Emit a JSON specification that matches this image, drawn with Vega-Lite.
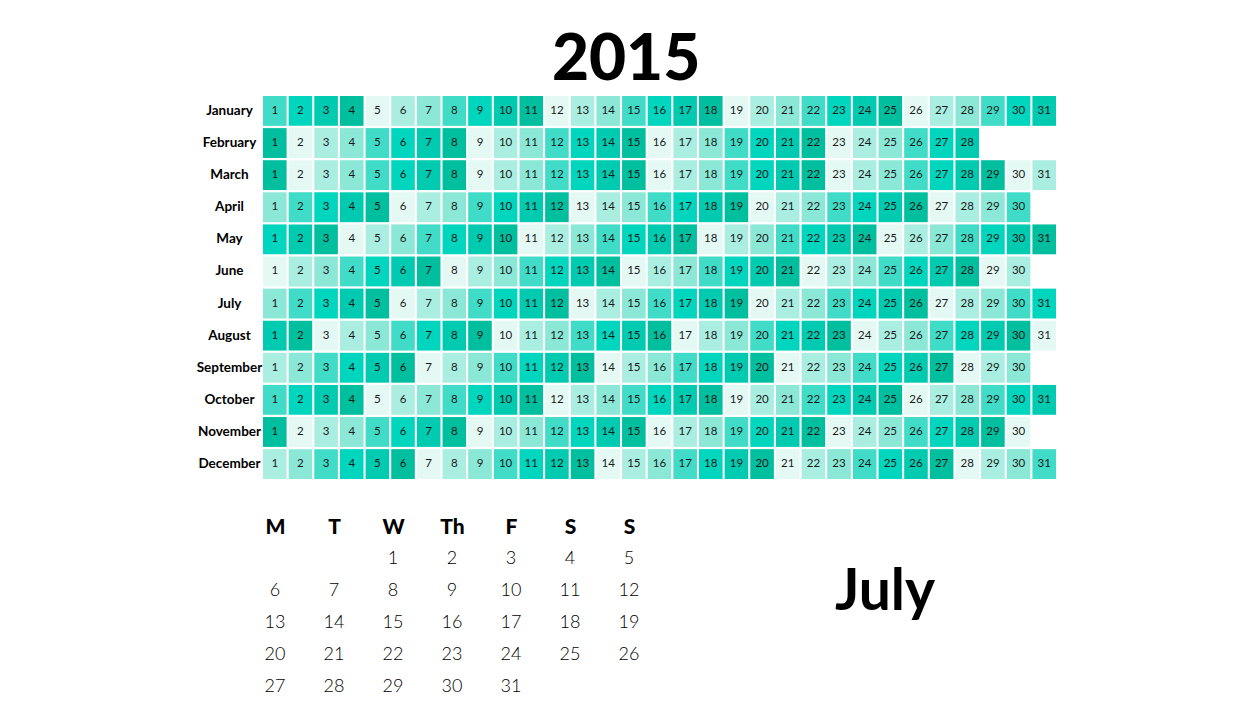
{
"$schema": "https://vega.github.io/schema/vega-lite/v6.json",
"background": "white",
"padding": {"left": 196, "top": 29, "right": 0, "bottom": 0},
"config": {"view": {"stroke": null}},
"spacing": 37,
"vconcat": [
{
"width": 793, "height": 383,
"title": {"text": "2015", "fontSize": 64, "font": "Lato", "fontWeight": 900, "color": "black", "anchor": "middle", "frame": "bounds", "offset": 3},
"data": {"values": [
{"t":"2015-01-01"},{"t":"2015-01-02"},{"t":"2015-01-03"},{"t":"2015-01-04"},{"t":"2015-01-05"},{"t":"2015-01-06"},{"t":"2015-01-07"},{"t":"2015-01-08"},{"t":"2015-01-09"},{"t":"2015-01-10"},{"t":"2015-01-11"},{"t":"2015-01-12"},{"t":"2015-01-13"},{"t":"2015-01-14"},{"t":"2015-01-15"},{"t":"2015-01-16"},{"t":"2015-01-17"},{"t":"2015-01-18"},{"t":"2015-01-19"},{"t":"2015-01-20"},{"t":"2015-01-21"},{"t":"2015-01-22"},{"t":"2015-01-23"},{"t":"2015-01-24"},{"t":"2015-01-25"},{"t":"2015-01-26"},{"t":"2015-01-27"},{"t":"2015-01-28"},{"t":"2015-01-29"},{"t":"2015-01-30"},{"t":"2015-01-31"},
{"t":"2015-02-01"},{"t":"2015-02-02"},{"t":"2015-02-03"},{"t":"2015-02-04"},{"t":"2015-02-05"},{"t":"2015-02-06"},{"t":"2015-02-07"},{"t":"2015-02-08"},{"t":"2015-02-09"},{"t":"2015-02-10"},{"t":"2015-02-11"},{"t":"2015-02-12"},{"t":"2015-02-13"},{"t":"2015-02-14"},{"t":"2015-02-15"},{"t":"2015-02-16"},{"t":"2015-02-17"},{"t":"2015-02-18"},{"t":"2015-02-19"},{"t":"2015-02-20"},{"t":"2015-02-21"},{"t":"2015-02-22"},{"t":"2015-02-23"},{"t":"2015-02-24"},{"t":"2015-02-25"},{"t":"2015-02-26"},{"t":"2015-02-27"},{"t":"2015-02-28"},
{"t":"2015-03-01"},{"t":"2015-03-02"},{"t":"2015-03-03"},{"t":"2015-03-04"},{"t":"2015-03-05"},{"t":"2015-03-06"},{"t":"2015-03-07"},{"t":"2015-03-08"},{"t":"2015-03-09"},{"t":"2015-03-10"},{"t":"2015-03-11"},{"t":"2015-03-12"},{"t":"2015-03-13"},{"t":"2015-03-14"},{"t":"2015-03-15"},{"t":"2015-03-16"},{"t":"2015-03-17"},{"t":"2015-03-18"},{"t":"2015-03-19"},{"t":"2015-03-20"},{"t":"2015-03-21"},{"t":"2015-03-22"},{"t":"2015-03-23"},{"t":"2015-03-24"},{"t":"2015-03-25"},{"t":"2015-03-26"},{"t":"2015-03-27"},{"t":"2015-03-28"},{"t":"2015-03-29"},{"t":"2015-03-30"},{"t":"2015-03-31"},
{"t":"2015-04-01"},{"t":"2015-04-02"},{"t":"2015-04-03"},{"t":"2015-04-04"},{"t":"2015-04-05"},{"t":"2015-04-06"},{"t":"2015-04-07"},{"t":"2015-04-08"},{"t":"2015-04-09"},{"t":"2015-04-10"},{"t":"2015-04-11"},{"t":"2015-04-12"},{"t":"2015-04-13"},{"t":"2015-04-14"},{"t":"2015-04-15"},{"t":"2015-04-16"},{"t":"2015-04-17"},{"t":"2015-04-18"},{"t":"2015-04-19"},{"t":"2015-04-20"},{"t":"2015-04-21"},{"t":"2015-04-22"},{"t":"2015-04-23"},{"t":"2015-04-24"},{"t":"2015-04-25"},{"t":"2015-04-26"},{"t":"2015-04-27"},{"t":"2015-04-28"},{"t":"2015-04-29"},{"t":"2015-04-30"},
{"t":"2015-05-01"},{"t":"2015-05-02"},{"t":"2015-05-03"},{"t":"2015-05-04"},{"t":"2015-05-05"},{"t":"2015-05-06"},{"t":"2015-05-07"},{"t":"2015-05-08"},{"t":"2015-05-09"},{"t":"2015-05-10"},{"t":"2015-05-11"},{"t":"2015-05-12"},{"t":"2015-05-13"},{"t":"2015-05-14"},{"t":"2015-05-15"},{"t":"2015-05-16"},{"t":"2015-05-17"},{"t":"2015-05-18"},{"t":"2015-05-19"},{"t":"2015-05-20"},{"t":"2015-05-21"},{"t":"2015-05-22"},{"t":"2015-05-23"},{"t":"2015-05-24"},{"t":"2015-05-25"},{"t":"2015-05-26"},{"t":"2015-05-27"},{"t":"2015-05-28"},{"t":"2015-05-29"},{"t":"2015-05-30"},{"t":"2015-05-31"},
{"t":"2015-06-01"},{"t":"2015-06-02"},{"t":"2015-06-03"},{"t":"2015-06-04"},{"t":"2015-06-05"},{"t":"2015-06-06"},{"t":"2015-06-07"},{"t":"2015-06-08"},{"t":"2015-06-09"},{"t":"2015-06-10"},{"t":"2015-06-11"},{"t":"2015-06-12"},{"t":"2015-06-13"},{"t":"2015-06-14"},{"t":"2015-06-15"},{"t":"2015-06-16"},{"t":"2015-06-17"},{"t":"2015-06-18"},{"t":"2015-06-19"},{"t":"2015-06-20"},{"t":"2015-06-21"},{"t":"2015-06-22"},{"t":"2015-06-23"},{"t":"2015-06-24"},{"t":"2015-06-25"},{"t":"2015-06-26"},{"t":"2015-06-27"},{"t":"2015-06-28"},{"t":"2015-06-29"},{"t":"2015-06-30"},
{"t":"2015-07-01"},{"t":"2015-07-02"},{"t":"2015-07-03"},{"t":"2015-07-04"},{"t":"2015-07-05"},{"t":"2015-07-06"},{"t":"2015-07-07"},{"t":"2015-07-08"},{"t":"2015-07-09"},{"t":"2015-07-10"},{"t":"2015-07-11"},{"t":"2015-07-12"},{"t":"2015-07-13"},{"t":"2015-07-14"},{"t":"2015-07-15"},{"t":"2015-07-16"},{"t":"2015-07-17"},{"t":"2015-07-18"},{"t":"2015-07-19"},{"t":"2015-07-20"},{"t":"2015-07-21"},{"t":"2015-07-22"},{"t":"2015-07-23"},{"t":"2015-07-24"},{"t":"2015-07-25"},{"t":"2015-07-26"},{"t":"2015-07-27"},{"t":"2015-07-28"},{"t":"2015-07-29"},{"t":"2015-07-30"},{"t":"2015-07-31"},
{"t":"2015-08-01"},{"t":"2015-08-02"},{"t":"2015-08-03"},{"t":"2015-08-04"},{"t":"2015-08-05"},{"t":"2015-08-06"},{"t":"2015-08-07"},{"t":"2015-08-08"},{"t":"2015-08-09"},{"t":"2015-08-10"},{"t":"2015-08-11"},{"t":"2015-08-12"},{"t":"2015-08-13"},{"t":"2015-08-14"},{"t":"2015-08-15"},{"t":"2015-08-16"},{"t":"2015-08-17"},{"t":"2015-08-18"},{"t":"2015-08-19"},{"t":"2015-08-20"},{"t":"2015-08-21"},{"t":"2015-08-22"},{"t":"2015-08-23"},{"t":"2015-08-24"},{"t":"2015-08-25"},{"t":"2015-08-26"},{"t":"2015-08-27"},{"t":"2015-08-28"},{"t":"2015-08-29"},{"t":"2015-08-30"},{"t":"2015-08-31"},
{"t":"2015-09-01"},{"t":"2015-09-02"},{"t":"2015-09-03"},{"t":"2015-09-04"},{"t":"2015-09-05"},{"t":"2015-09-06"},{"t":"2015-09-07"},{"t":"2015-09-08"},{"t":"2015-09-09"},{"t":"2015-09-10"},{"t":"2015-09-11"},{"t":"2015-09-12"},{"t":"2015-09-13"},{"t":"2015-09-14"},{"t":"2015-09-15"},{"t":"2015-09-16"},{"t":"2015-09-17"},{"t":"2015-09-18"},{"t":"2015-09-19"},{"t":"2015-09-20"},{"t":"2015-09-21"},{"t":"2015-09-22"},{"t":"2015-09-23"},{"t":"2015-09-24"},{"t":"2015-09-25"},{"t":"2015-09-26"},{"t":"2015-09-27"},{"t":"2015-09-28"},{"t":"2015-09-29"},{"t":"2015-09-30"},
{"t":"2015-10-01"},{"t":"2015-10-02"},{"t":"2015-10-03"},{"t":"2015-10-04"},{"t":"2015-10-05"},{"t":"2015-10-06"},{"t":"2015-10-07"},{"t":"2015-10-08"},{"t":"2015-10-09"},{"t":"2015-10-10"},{"t":"2015-10-11"},{"t":"2015-10-12"},{"t":"2015-10-13"},{"t":"2015-10-14"},{"t":"2015-10-15"},{"t":"2015-10-16"},{"t":"2015-10-17"},{"t":"2015-10-18"},{"t":"2015-10-19"},{"t":"2015-10-20"},{"t":"2015-10-21"},{"t":"2015-10-22"},{"t":"2015-10-23"},{"t":"2015-10-24"},{"t":"2015-10-25"},{"t":"2015-10-26"},{"t":"2015-10-27"},{"t":"2015-10-28"},{"t":"2015-10-29"},{"t":"2015-10-30"},{"t":"2015-10-31"},
{"t":"2015-11-01"},{"t":"2015-11-02"},{"t":"2015-11-03"},{"t":"2015-11-04"},{"t":"2015-11-05"},{"t":"2015-11-06"},{"t":"2015-11-07"},{"t":"2015-11-08"},{"t":"2015-11-09"},{"t":"2015-11-10"},{"t":"2015-11-11"},{"t":"2015-11-12"},{"t":"2015-11-13"},{"t":"2015-11-14"},{"t":"2015-11-15"},{"t":"2015-11-16"},{"t":"2015-11-17"},{"t":"2015-11-18"},{"t":"2015-11-19"},{"t":"2015-11-20"},{"t":"2015-11-21"},{"t":"2015-11-22"},{"t":"2015-11-23"},{"t":"2015-11-24"},{"t":"2015-11-25"},{"t":"2015-11-26"},{"t":"2015-11-27"},{"t":"2015-11-28"},{"t":"2015-11-29"},{"t":"2015-11-30"},
{"t":"2015-12-01"},{"t":"2015-12-02"},{"t":"2015-12-03"},{"t":"2015-12-04"},{"t":"2015-12-05"},{"t":"2015-12-06"},{"t":"2015-12-07"},{"t":"2015-12-08"},{"t":"2015-12-09"},{"t":"2015-12-10"},{"t":"2015-12-11"},{"t":"2015-12-12"},{"t":"2015-12-13"},{"t":"2015-12-14"},{"t":"2015-12-15"},{"t":"2015-12-16"},{"t":"2015-12-17"},{"t":"2015-12-18"},{"t":"2015-12-19"},{"t":"2015-12-20"},{"t":"2015-12-21"},{"t":"2015-12-22"},{"t":"2015-12-23"},{"t":"2015-12-24"},{"t":"2015-12-25"},{"t":"2015-12-26"},{"t":"2015-12-27"},{"t":"2015-12-28"},{"t":"2015-12-29"},{"t":"2015-12-30"},{"t":"2015-12-31"}
]},
"encoding": {
"x": {"field": "t", "timeUnit": "utcdate", "type": "ordinal", "axis": null, "scale": {"paddingInner": 0.08, "paddingOuter": 0}},
"y": {"field": "t", "timeUnit": "utcmonth", "type": "ordinal", "scale": {"paddingInner": 0.07, "paddingOuter": 0},
"axis": {"title": null, "format": "%B", "domain": false, "ticks": false, "tickSize": 0, "labelAlign": "center", "labelPadding": 34, "labelFont": "Lato", "labelFontSize": 13.5, "labelFontWeight": "bold", "labelColor": "black"}}
},
"layer": [
{"mark": {"type": "rect"},
"encoding": {"color": {"field": "t", "timeUnit": "utcday", "type": "ordinal", "legend": null,
"scale": {"range": ["#00bf9f", "#e4f9f4", "#a9eee1", "#8be7d6", "#41dcc7", "#00d5be", "#00cbb1"]}}}},
{"mark": {"type": "text", "fontSize": 11.5, "font": "Lato", "color": "#1a1a1a"},
"encoding": {"text": {"field": "t", "timeUnit": "utcdate", "type": "ordinal", "format": "%-d"}}}
]
},
{
"spacing": 20,
"hconcat": [
{
"width": 378, "height": 160,
"data": {"values": [
{"d":1,"c":"Wed","r":1},{"d":2,"c":"Thu","r":1},{"d":3,"c":"Fri","r":1},{"d":4,"c":"Sat","r":1},{"d":5,"c":"Sun","r":1},
{"d":6,"c":"Mon","r":2},{"d":7,"c":"Tue","r":2},{"d":8,"c":"Wed","r":2},{"d":9,"c":"Thu","r":2},{"d":10,"c":"Fri","r":2},{"d":11,"c":"Sat","r":2},{"d":12,"c":"Sun","r":2},
{"d":13,"c":"Mon","r":3},{"d":14,"c":"Tue","r":3},{"d":15,"c":"Wed","r":3},{"d":16,"c":"Thu","r":3},{"d":17,"c":"Fri","r":3},{"d":18,"c":"Sat","r":3},{"d":19,"c":"Sun","r":3},
{"d":20,"c":"Mon","r":4},{"d":21,"c":"Tue","r":4},{"d":22,"c":"Wed","r":4},{"d":23,"c":"Thu","r":4},{"d":24,"c":"Fri","r":4},{"d":25,"c":"Sat","r":4},{"d":26,"c":"Sun","r":4},
{"d":27,"c":"Mon","r":5},{"d":28,"c":"Tue","r":5},{"d":29,"c":"Wed","r":5},{"d":30,"c":"Thu","r":5},{"d":31,"c":"Fri","r":5}
]},
"mark": {"type": "text", "fontSize": 18, "font": "Lato", "fontWeight": 300, "color": "black"},
"encoding": {
"x": {"field": "c", "type": "nominal", "sort": ["Mon", "Tue", "Wed", "Thu", "Fri", "Sat", "Sun"],
"scale": {"type": "point", "padding": 0.2034},
"axis": {"orient": "top", "title": null, "domain": false, "ticks": false, "tickSize": 0, "labelAngle": 0,
"labelExpr": "datum.value == 'Thu' ? 'Th' : slice(datum.value, 0, 1)",
"labelFont": "Lato", "labelFontSize": 21, "labelFontWeight": 900, "labelColor": "black", "labelPadding": 16, "labelBaseline": "middle"}},
"y": {"field": "r", "type": "ordinal", "axis": null},
"text": {"field": "d", "type": "quantitative"}
}
},
{
"width": 448, "height": 100,
"data": {"values": [{"month": "July"}]},
"mark": {"type": "text", "fontSize": 57, "font": "Lato", "fontWeight": "bold", "color": "black"},
"encoding": {
"x": {"field": "month", "type": "nominal", "axis": null},
"y": {"field": "month", "type": "nominal", "axis": null},
"text": {"field": "month", "type": "nominal"}
}
}
]
}
]
}
